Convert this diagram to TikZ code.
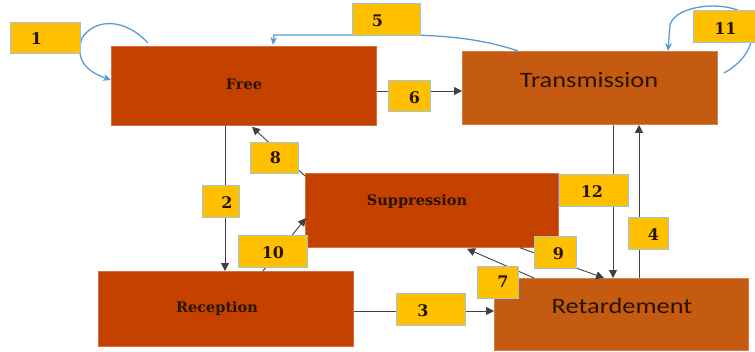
\documentclass[tikz,border=0pt]{standalone}
\usepackage{fontspec}
\setmainfont{DejaVu Serif}
\newfontfamily\calfont{Carlito}
\usepackage{graphicx}
\usetikzlibrary{arrows.meta,calc}
\definecolor{boxred}{HTML}{C44100}
\definecolor{boxor}{HTML}{C55A11}
\definecolor{labely}{HTML}{FFC000}
\definecolor{labelb}{HTML}{9DC3E6}
\definecolor{curveb}{HTML}{5B9BD5}
\definecolor{txt}{HTML}{2A1400}
\definecolor{arr}{HTML}{404040}
\begin{document}
\begin{tikzpicture}[x=1pt,y=-1pt,
  box/.style={draw=#1!75!white, line width=0.8pt, fill=#1, inner sep=0pt, anchor=north west},
  stxt/.style={text=txt, font=\fontsize{14.5}{16}\selectfont\bfseries, inner sep=0pt},
  ctxt/.style={text=txt, font=\calfont\fontsize{22}{24}\selectfont, inner sep=0pt},
  lab/.style={draw=labelb, line width=0.8pt, fill=labely, inner sep=0pt, anchor=north west},
  labtext/.style={text=txt, inner sep=0pt, font=\fontsize{16}{18}\selectfont\bfseries},
  arrow/.style={draw=arr, line width=0.9pt, -{Triangle[length=8pt,width=8pt]}},
  curve/.style={draw=curveb, line width=1.3pt, -{Stealth[length=8pt,width=7pt]}}]
\path[use as bounding box] (0,0) rectangle (755,351);
% boxes
\node[box=boxred, minimum width=265pt, minimum height=79pt] (Free) at (111,46) {};
\node[box=boxor, minimum width=255pt, minimum height=73pt] (Trans) at (462,51) {};
\node[box=boxred, minimum width=253pt, minimum height=74pt] (Supp) at (305,173) {};
\node[box=boxred, minimum width=255pt, minimum height=75pt] (Recep) at (98,271) {};
\node[box=boxor, minimum width=254pt, minimum height=72pt] (Retard) at (494,278) {};
% texts
\node[stxt] (tFree) at (244,84) {Free};
\node[stxt] (tSupp) at (417,201) {Suppression};
\node[stxt] (tRecep) at (217,308) {Reception};
\node[ctxt] (tTrans) at (589,80) {\scalebox{1.2}[1]{Transmission}};
\node[ctxt] (tRetard) at (622,306) {\scalebox{1.2}[1]{Retardement}};
% black arrows
\draw[arrow] ($(Free.north east)+(0,45)$) -- ($(Trans.north west)+(0,40)$);
\draw[arrow] ($(Free.south west)+(114,0)$) -- ($(Recep.north west)+(127,0)$);
\draw[arrow] ($(Supp.north west)+(0,3)$) -- ($(Free.south west)+(141,1)$);
\draw[arrow] ($(Recep.north west)+(165,0)$) -- ($(Supp.north west)+(1,45)$);
\draw[arrow] ($(Recep.north east)+(0,40)$) -- ($(Retard.north west)+(0,33)$);
\draw[arrow] ($(Trans.south west)+(151,0)$) -- ($(Retard.north west)+(119,0)$);
\draw[arrow] ($(Retard.north west)+(145,0)$) -- ($(Trans.south west)+(177,0)$);
\draw[arrow] ($(Supp.south west)+(215,0)$) -- ($(Retard.north west)+(110,0)$);
\draw[arrow] ($(Retard.north west)+(40,0)$) -- ($(Supp.south west)+(162,1)$);
% blue curves
\draw[curve] ($(Free.north west)+(37,-3)$) .. controls (125,18) and (95,18) .. (82,38)
  .. controls (76,56) and (82,70) .. ($(Free.north west)+(0,34)$);
\draw[curve] ($(Trans.north west)+(56,0)$) .. controls (480,38) and (440,35) .. (400,35)
  -- (274,35) -- ($(Free.north west)+(162,-1)$);
\draw[curve] ($(Trans.north east)+(6,22)$) .. controls (745,62) and (762,38) .. (745,14)
  .. controls (725,0) and (675,5) .. (670,25) -- ($(Trans.north west)+(206,0)$);
% labels
\node[lab, minimum width=70pt, minimum height=31pt] (l1) at (10,22) {};
\node[lab, minimum width=68pt, minimum height=32pt] (l5) at (352,3) {};
\node[lab, minimum width=42pt, minimum height=31pt] (l6) at (388,80) {};
\node[lab, minimum width=62pt, minimum height=32pt] (l11) at (693,10) {};
\node[lab, minimum width=48pt, minimum height=31pt] (l8) at (250,142) {};
\node[lab, minimum width=37pt, minimum height=32pt] (l2) at (202,185) {};
\node[lab, minimum width=69pt, minimum height=32pt] (l10) at (238,235) {};
\node[lab, minimum width=69pt, minimum height=32pt] (l12) at (559,174) {};
\node[lab, minimum width=40pt, minimum height=32pt] (l4) at (628,217) {};
\node[lab, minimum width=42pt, minimum height=32pt] (l9) at (534,236) {};
\node[lab, minimum width=41pt, minimum height=32pt] (l7) at (477,266) {};
\node[lab, minimum width=69pt, minimum height=32pt] (l3) at (396,293) {};
% label numbers
\node[labtext] (n1) at ($(l1.center)+(-9,1)$) {1};
\node[labtext] (n5) at ($(l5.center)+(-9,1)$) {5};
\node[labtext] (n6) at ($(l6.center)+(5,2)$) {6};
\node[labtext] (n11) at ($(l11.center)+(1,2)$) {11};
\node[labtext] (n8) at ($(l8.center)+(1,0)$) {8};
\node[labtext] (n2) at ($(l2.center)+(6,1)$) {2};
\node[labtext] (n10) at ($(l10.center)+(0,1)$) {10};
\node[labtext] (n12) at ($(l12.center)+(-2,1)$) {12};
\node[labtext] (n4) at ($(l4.center)+(5,1)$) {4};
\node[labtext] (n9) at ($(l9.center)+(3,1)$) {9};
\node[labtext] (n7) at ($(l7.center)+(5,-1)$) {7};
\node[labtext] (n3) at ($(l3.center)+(-8,1)$) {3};
\end{tikzpicture}
\end{document}
